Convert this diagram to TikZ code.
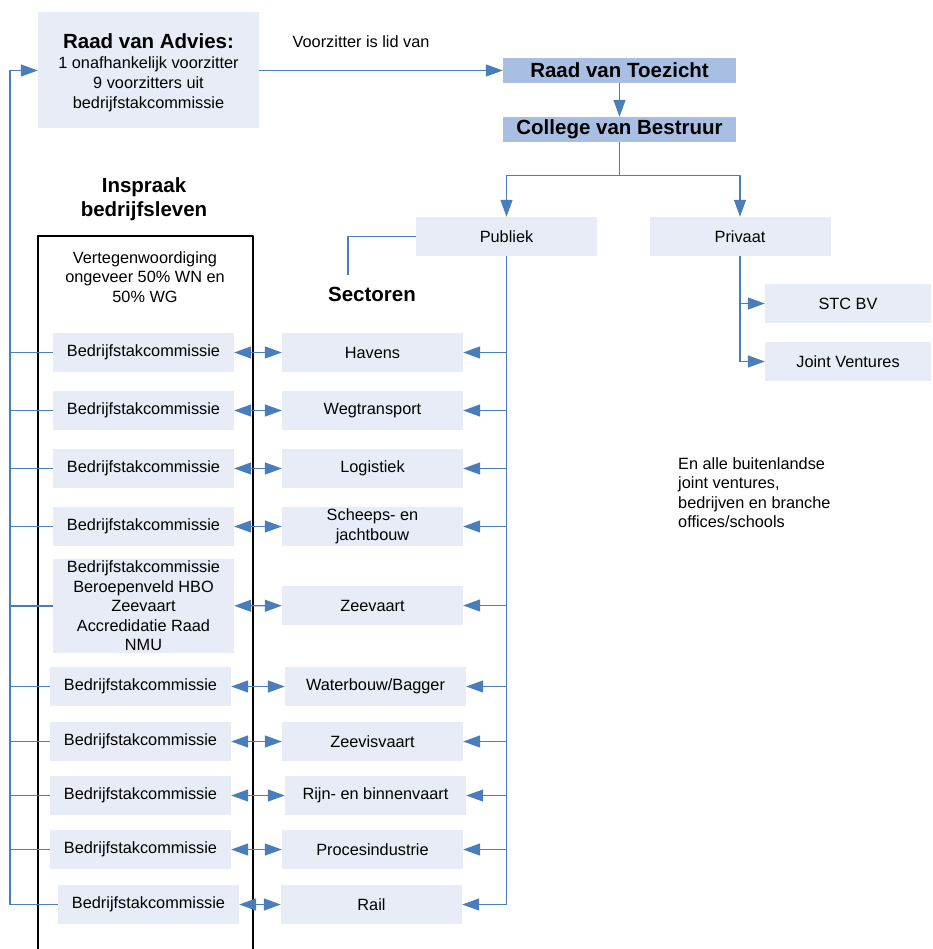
\documentclass[tikz,border=0pt]{standalone}
\usepackage{fontspec}
\setmainfont{Liberation Sans}
\usetikzlibrary{arrows.meta}
\definecolor{lijnblauw}{RGB}{74,126,187}
\definecolor{lichtvak}{RGB}{231,236,247}
\definecolor{donkervak}{RGB}{168,191,227}
\begin{document}
\begin{tikzpicture}[x=1pt, y=-1pt, line join=round,
  font=\fontsize{16.3}{19.5}\selectfont,
  >={Triangle[length=17pt,width=12pt]},
  vak/.style={fill=lichtvak, minimum width=181pt, minimum height=39pt, inner sep=0pt, align=center},
  kop/.style={fill=donkervak, minimum width=233pt, minimum height=25pt, inner sep=0pt,
    font=\fontsize{20.5}{24}\selectfont\bfseries},
  titel/.style={font=\fontsize{20.5}{24}\selectfont\bfseries, align=center},
  lijn/.style={draw=lijnblauw, line width=1.3pt}]
\useasboundingbox (0,0) rectangle (932,949);

% bestuur
\node[vak, minimum width=221pt, minimum height=116pt] (rva) at (148.5,70.5) {};
\node[align=center, font=\fontsize{16.3}{20}\selectfont] (rvatekst) at (148.5,72.5)
  {{\fontsize{20.5}{20}\selectfont\bfseries Raad van Advies:}\\1 onafhankelijk voorzitter\\9 voorzitters uit\\bedrijfstakcommissie};
\node[anchor=base west, inner sep=0pt] (lid) at (292.5,47.5) {Voorzitter is lid van};
\node[kop] (rvt) at (619.5,70.5) {Raad van Toezicht};
\node[kop] (cvb) at (619.5,129.5) {College van Bestruur};
\node[vak] (pub) at (506.5,236.5) {Publiek};
\node[vak] (priv) at (740,236.5) {Privaat};
\node[vak, minimum width=166pt] (stc) at (848,303.5) {STC BV};
\node[vak, minimum width=166pt] (jv) at (848,361.5) {Joint Ventures};
\coordinate (terug) at (10,70.5);
\coordinate (sectop) at (348,275);

% koppen
\node[titel] (insp) at (144,199) {Inspraak\\bedrijfsleven};
\node[titel] (sect) at (372,294) {Sectoren};
\node[align=center] (vert) at (145,277) {Vertegenwoordiging\\ongeveer 50\% WN en\\50\% WG};
\node[align=left, anchor=north west, inner sep=0pt] (buit) at (678,457) {En alle buitenlandse\\joint ventures,\\bedrijven en branche\\offices/schools};
\draw[line width=1.3pt] (38,949) -- (38,236) -- (253,236) -- (253,949);

% sectoren en commissies
\foreach \i/\y/\bx/\sx/\sector in {1/352.5/143.5/372.5/Havens, 2/410.5/143.5/372.5/Wegtransport,
    3/468.5/143.5/372.5/Logistiek, 4/526.5/143.5/372.5/{Scheeps- en\\jachtbouw},
    6/686.5/140.5/375.5/{Waterbouw/Bagger}, 7/741.5/140.5/372.5/Zeevisvaart,
    8/795.5/140.5/375.5/{Rijn- en binnenvaart}, 9/849.5/140.5/372.5/Procesindustrie,
    10/904.5/148.5/371.5/Rail}{
  \node[vak] (bc\i) at (\bx,\y) {Bedrijfstakcommissie};
  \node[vak] (sec\i) at (\sx,\y) {\sector};
}
\node[vak, minimum height=94pt] (bc5) at (143.5,606)
  {Bedrijfstakcommissie\\Beroepenveld HBO\\Zeevaart\\Accredidatie Raad\\NMU};
\node[vak] (sec5) at (372.5,605.5) {Zeevaart};

% verbindingen
\draw[lijn, ->] (rva.east) -- (rvt.west);
\draw[lijn, ->] (rvt) -- (cvb);
\draw[lijn, ->] (cvb.south) -- ++(0,33) -| (pub.north);
\draw[lijn, ->] (cvb.south) -- ++(0,33) -| (priv.north);
\draw[lijn] (pub.west) -| (sectop);
\draw[lijn] (pub.south) -- (pub.south |- sec10.east);
\draw[lijn] (priv.south) -- (priv.south |- jv.west);
\draw[lijn, ->] (priv.south |- stc.west) -- (stc.west);
\draw[lijn, ->] (priv.south |- jv.west) -- (jv.west);
\foreach \i in {1,...,10}{
  \draw[lijn, <->] (bc\i) -- (sec\i);
  \draw[lijn, <-] (sec\i.east) -- (sec\i.east -| pub.south);
  \draw[lijn] (bc\i.west) -- (bc\i.west -| terug);
}
\draw[lijn, ->] (bc10.west -| terug) -- (terug) -- (rva.west);
\end{tikzpicture}
\end{document}
